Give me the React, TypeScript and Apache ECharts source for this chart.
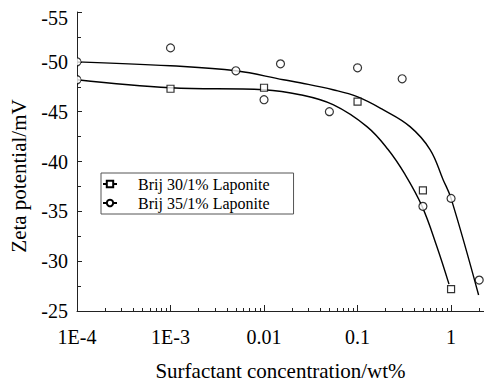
import React, { useEffect, useRef } from 'react';
import * as echarts from 'echarts';

// Tick labels for the log x axis (decades 1E-4 .. 1)
const xTickLabels = ['1E-4', '1E-3', '0.01', '0.1', '1'];

// Series names
const name30 = 'Brij 30/1% Laponite';
const name35 = 'Brij 35/1% Laponite';

// Measured points
const brij30X = [0.001, 0.01, 0.1, 0.5, 1];
const brij30Y = [-47.3, -47.4, -46.0, -37.1, -27.2];
const brij35X = [0.001, 0.005, 0.01, 0.015, 0.05, 0.1, 0.3, 0.5, 1, 2];
const brij35Y = [-51.4, -49.1, -46.2, -49.8, -45.0, -49.4, -48.3, -35.5, -36.3, -28.1];

// Fitted curves
const fit30X = [0.0001, 0.001, 0.01, 0.0243, 0.0547, 0.126, 0.212, 0.322, 0.49, 0.703, 0.95];
const fit30Y = [-48.2, -47.4, -47.2, -46.7, -45.7, -43.5, -41.2, -38.7, -35.5, -31.5, -27.7];
const fit35X = [0.0001, 0.001, 0.005, 0.0161, 0.0243, 0.0547, 0.099, 0.187, 0.364, 0.596, 0.82, 1.0, 1.97];
const fit35Y = [-50.0, -49.6, -49.1, -48.2, -47.9, -47.2, -46.5, -45.2, -43.5, -41.2, -38.2, -36.3, -26.6];

// Clipped markers at the left edge
const edgeX = [0.0001, 0.0001];
const edgeY = [-50.0, -48.2];

const FONT = 'Liberation Serif';
const AX = '#222';

const zip = (xs: number[], ys: number[]) => xs.map((x, i) => [x, ys[i]]);

const minorTicks: number[] = [];
for (let e = -4; e <= 0; e++) {
  for (let k = 2; k <= 9; k++) {
    const v = k * Math.pow(10, e);
    if (v <= 2.25) minorTicks.push(Number(v.toPrecision(6)));
  }
}

export default function App() {
  const ref = useRef<HTMLDivElement>(null);
  useEffect(() => {
    const chart = echarts.init(ref.current!, null, { renderer: 'svg' });
    const markerStyle = { color: '#fff', borderColor: '#000', borderWidth: 1.2 };
    const option: any = {
      animation: false,
      backgroundColor: '#fff',
      textStyle: { fontFamily: FONT },
      grid: { left: 77, right: 0, top: 12, bottom: 71, containLabel: false, outerBoundsMode: 'none' },
      legend: {
        orient: 'vertical',
        left: 101,
        top: 173,
        data: [name30, name35],
        borderColor: '#555',
        borderWidth: 1,
        padding: [3, 24, 3, 1],
        itemWidth: 14,
        itemHeight: 8,
        itemGap: 3,
        textStyle: { fontFamily: FONT, fontSize: 16, color: '#000', lineHeight: 16, padding: [0, 0, 0, 16] },
      },
      graphic: [
        {
          type: 'text',
          x: 19,
          y: 176,
          rotation: Math.PI / 2,
          style: {
            text: 'Zeta potential/mV',
            fontFamily: FONT,
            fontSize: 21,
            fill: '#000',
            align: 'center',
            verticalAlign: 'middle',
          },
        },
      ],
      xAxis: [
        {
          type: 'log',
          logBase: 10,
          min: 0.0001,
          max: 2.25,
          position: 'bottom',
          axisLine: { show: true, onZero: false, lineStyle: { color: AX, width: 1 } },
          axisTick: { show: true, inside: true, length: 6, lineStyle: { color: AX } },
          axisLabel: {
            fontFamily: FONT,
            fontSize: 20,
            color: '#000',
            margin: 16,
            showMaxLabel: false,
            formatter: (v: number) => {
              const l = Math.log10(v);
              const e = Math.round(l);
              if (Math.abs(l - e) > 0.01) return '';
              return xTickLabels[e + 4] ?? '';
            },
          },
          splitLine: { show: false },
          name: 'Surfactant concentration/wt%',
          nameLocation: 'middle',
          nameGap: 49,
          nameTextStyle: { fontFamily: FONT, fontSize: 21, color: '#000' },
        },
        {
          type: 'log',
          logBase: 10,
          min: 0.0001,
          max: 2.25,
          position: 'bottom',
          axisLine: { show: false, onZero: false },
          axisTick: { show: true, inside: true, length: 3, lineStyle: { color: AX }, customValues: minorTicks },
          axisLabel: { show: false },
          splitLine: { show: false },
        },
      ],
      yAxis: {
        type: 'value',
        min: -55,
        max: -25,
        interval: 5,
        inverse: true,
        axisLine: { show: true, onZero: false, lineStyle: { color: AX, width: 1 } },
        axisTick: { show: true, inside: true, length: 5, lineStyle: { color: AX } },
        minorTick: { show: true, splitNumber: 2, length: 4, lineStyle: { color: AX } },
        axisLabel: {
          fontFamily: FONT,
          fontSize: 20,
          color: '#000',
          margin: 9,
          formatter: (v: number) => (v === -55 ? '{low|-55}' : String(v)),
          rich: { low: { fontFamily: FONT, fontSize: 20, color: '#000', padding: [12, 0, 0, 0] } },
        },
        splitLine: { show: false },
        minorSplitLine: { show: false },
      },
      series: [
        // legend carriers (line + marker icon), no data
        {
          name: name30,
          type: 'line',
          data: [],
          symbol: 'rect',
          symbolSize: 7,
          itemStyle: markerStyle,
          lineStyle: { color: '#000', width: 1 },
        },
        {
          name: name35,
          type: 'line',
          data: [],
          symbol: 'circle',
          symbolSize: 8,
          itemStyle: markerStyle,
          lineStyle: { color: '#000', width: 1 },
        },
        {
          name: 'fit30',
          type: 'line',
          data: zip(fit30X, fit30Y),
          smooth: 0.4,
          showSymbol: false,
          symbol: 'none',
          lineStyle: { color: '#000', width: 1.4 },
          z: 2,
        },
        {
          name: 'fit35',
          type: 'line',
          data: zip(fit35X, fit35Y),
          smooth: 0.4,
          showSymbol: false,
          symbol: 'none',
          lineStyle: { color: '#000', width: 1.4 },
          z: 2,
        },
        {
          name: name30,
          type: 'scatter',
          data: zip(brij30X, brij30Y),
          symbol: 'rect',
          symbolSize: 7,
          itemStyle: markerStyle,
          z: 3,
        },
        {
          name: name35,
          type: 'scatter',
          data: zip(brij35X, brij35Y),
          symbol: 'circle',
          symbolSize: 8,
          itemStyle: markerStyle,
          z: 3,
        },
        {
          name: 'edge',
          type: 'scatter',
          data: zip(edgeX, edgeY),
          symbol: 'path://M0,0 A5,5 0 0 1 0,10',
          symbolSize: [4, 8],
          symbolOffset: [2, 0],
          itemStyle: { color: '#fff', borderColor: '#000', borderWidth: 1 },
          z: 3,
        },
      ],
    };
    chart.setOption(option);
    return () => chart.dispose();
  }, []);
  return (
    <div
      ref={ref}
      style={{ position: 'fixed', left: 0, top: 0, width: 484, height: 382, background: '#fff' }}
    />
  );
}
